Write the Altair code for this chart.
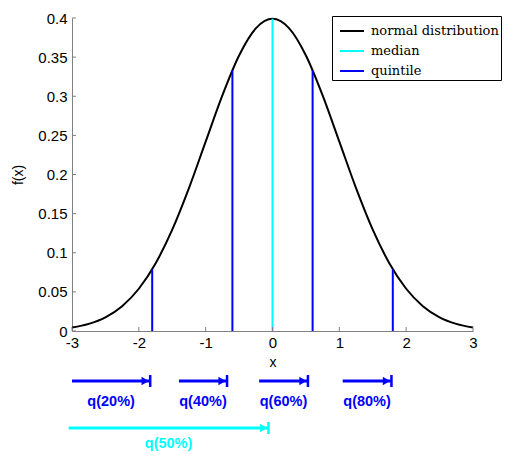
import altair as alt
import pandas as pd

# curve readings f(x) of the normal distribution
curve_x = [-3, -2.75, -2.5, -2.25, -2, -1.75, -1.5, -1.25, -1, -0.75, -0.5, -0.25, 0,
           0.25, 0.5, 0.75, 1, 1.25, 1.5, 1.75, 2, 2.25, 2.5, 2.75, 3]
curve_y = [0.0044, 0.0091, 0.0175, 0.0317, 0.054, 0.0863, 0.1295, 0.1826, 0.242, 0.3011,
           0.3521, 0.3867, 0.3989, 0.3867, 0.3521, 0.3011, 0.242, 0.1826, 0.1295, 0.0863,
           0.054, 0.0317, 0.0175, 0.0091, 0.0044]

median_x = [0]
median_h = [0.3989]

quint_x = [-1.8, -0.6, 0.6, 1.8]
quint_h = [0.079, 0.333, 0.333, 0.079]

arrow_start = [-3.0, -1.4, -0.2, 1.05]
arrow_end = [-1.83, -0.68, 0.53, 1.78]
arrow_label = ["q(20%)", "q(40%)", "q(60%)", "q(80%)"]

med_arrow_start = [-3.05]
med_arrow_end = [-0.06]
med_arrow_label = ["q(50%)"]

x_ticks = [-3, -2, -1, 0, 1, 2, 3]
y_ticks = [0, 0.05, 0.1, 0.15, 0.2, 0.25, 0.3, 0.35, 0.4]

series = ["normal distribution", "median", "quintile"]
series_colors = ["#000000", "#00ffff", "#0000ff"]

W, H = 401, 313

xs = alt.Scale(domain=[-3, 3], nice=False, zero=False)
ys = alt.Scale(domain=[0, 0.4], nice=False)

color = alt.Color(
    "series:N",
    scale=alt.Scale(domain=series, range=series_colors),
    legend=alt.Legend(
        title=None, orient="none", legendX=260, legendY=-2,
        strokeColor="#000000", fillColor="#ffffff", padding=2,
        symbolType="stroke", symbolSize=576, symbolStrokeWidth=2, symbolOffset=5,
        labelFont="DejaVu Serif", labelFontSize=13, labelColor="#000000",
        rowPadding=-3, labelOffset=6, cornerRadius=0,
    ),
)

df_curve = pd.DataFrame({"x": curve_x, "y": curve_y})
df_med = pd.DataFrame({"x": median_x, "h": median_h})
df_q = pd.DataFrame({"x": quint_x, "h": quint_h})
df_arr = pd.DataFrame({"s": arrow_start, "e": arrow_end, "label": arrow_label})
df_marr = pd.DataFrame({"s": med_arrow_start, "e": med_arrow_end, "label": med_arrow_label})
df_xt = pd.DataFrame({"t": x_ticks})
df_yt = pd.DataFrame({"t": y_ticks})

x_axis = alt.Axis(values=x_ticks, tickCount=len(x_ticks), title="x", labelPadding=4,
                  titlePadding=5, labelOverlap=False, labelSeparation=0)
y_axis = alt.Axis(values=y_ticks, tickCount=len(y_ticks), title="f(x)", labelPadding=5,
                  titlePadding=12, labelOverlap=False, labelSeparation=0)

curve = alt.Chart(df_curve).transform_calculate(series="'normal distribution'").mark_line(
    strokeWidth=2, interpolate="monotone").encode(
    x=alt.X("x:Q", scale=xs, axis=x_axis),
    y=alt.Y("y:Q", scale=ys, axis=y_axis),
    color=color,
)

med = alt.Chart(df_med).transform_calculate(series="'median'", z="0").mark_rule(
    strokeWidth=2).encode(
    x=alt.X("x:Q", scale=xs, axis=x_axis),
    y=alt.Y("z:Q", scale=ys, axis=y_axis),
    y2="h:Q",
    color=color,
)

quint = alt.Chart(df_q).transform_calculate(series="'quintile'", z="0").mark_rule(
    strokeWidth=2).encode(
    x=alt.X("x:Q", scale=xs, axis=x_axis),
    y=alt.Y("z:Q", scale=ys, axis=y_axis),
    y2="h:Q",
    color=color,
)

xticks = alt.Chart(df_xt).mark_rule(color="#808080", strokeWidth=1).encode(
    x=alt.X("t:Q", scale=xs, axis=x_axis), y=alt.value(H), y2=alt.value(H - 4))
yticks = alt.Chart(df_yt).mark_rule(color="#808080", strokeWidth=1).encode(
    y=alt.Y("t:Q", scale=ys, axis=y_axis), x=alt.value(0), x2=alt.value(4))


def arrows(df, col, y_line, y_text):
    base = alt.Chart(df)
    line = base.mark_rule(color=col, strokeWidth=3).encode(
        x=alt.X("s:Q", scale=xs, axis=x_axis), x2="e:Q", y=alt.value(y_line))
    head = base.mark_point(shape="triangle-right", filled=True, color=col, size=70,
                           opacity=1, xOffset=-5).encode(
        x=alt.X("e:Q", scale=xs, axis=x_axis), y=alt.value(y_line))
    bar = base.mark_rule(color=col, strokeWidth=2.5).encode(
        x=alt.X("e:Q", scale=xs, axis=x_axis), y=alt.value(y_line - 6),
        y2=alt.value(y_line + 6))
    text = base.transform_calculate(m="(datum.s + datum.e) / 2").mark_text(
        color=col, font="Liberation Sans", fontWeight="bold", fontSize=14.5,
        baseline="middle").encode(
        x=alt.X("m:Q", scale=xs, axis=x_axis), y=alt.value(y_text), text="label:N")
    return [line, head, bar, text]


layers = [curve, med, quint, xticks, yticks] + arrows(df_arr, "#0000ff", 363, 384) \
    + arrows(df_marr, "#00ffff", 410, 426)

chart = alt.layer(*layers).properties(
    width=W, height=H,
    autosize=alt.AutoSizeParams(type="none"),
    padding={"left": 64, "top": 10, "right": 33, "bottom": 120},
).configure_view(stroke=None).configure_axis(
    ticks=False, domainColor="#808080", grid=False,
    labelFontSize=15, labelColor="#000000", labelFont="Liberation Sans",
    labelExpr="'' + datum.value", labelOverlap=False, labelFlush=False,
    titleFontSize=14, titleFontWeight="normal", titleFont="Liberation Sans",
    titleColor="#000000",
)

chart.save("out.html", embed_options={"renderer": "svg", "actions": False})
